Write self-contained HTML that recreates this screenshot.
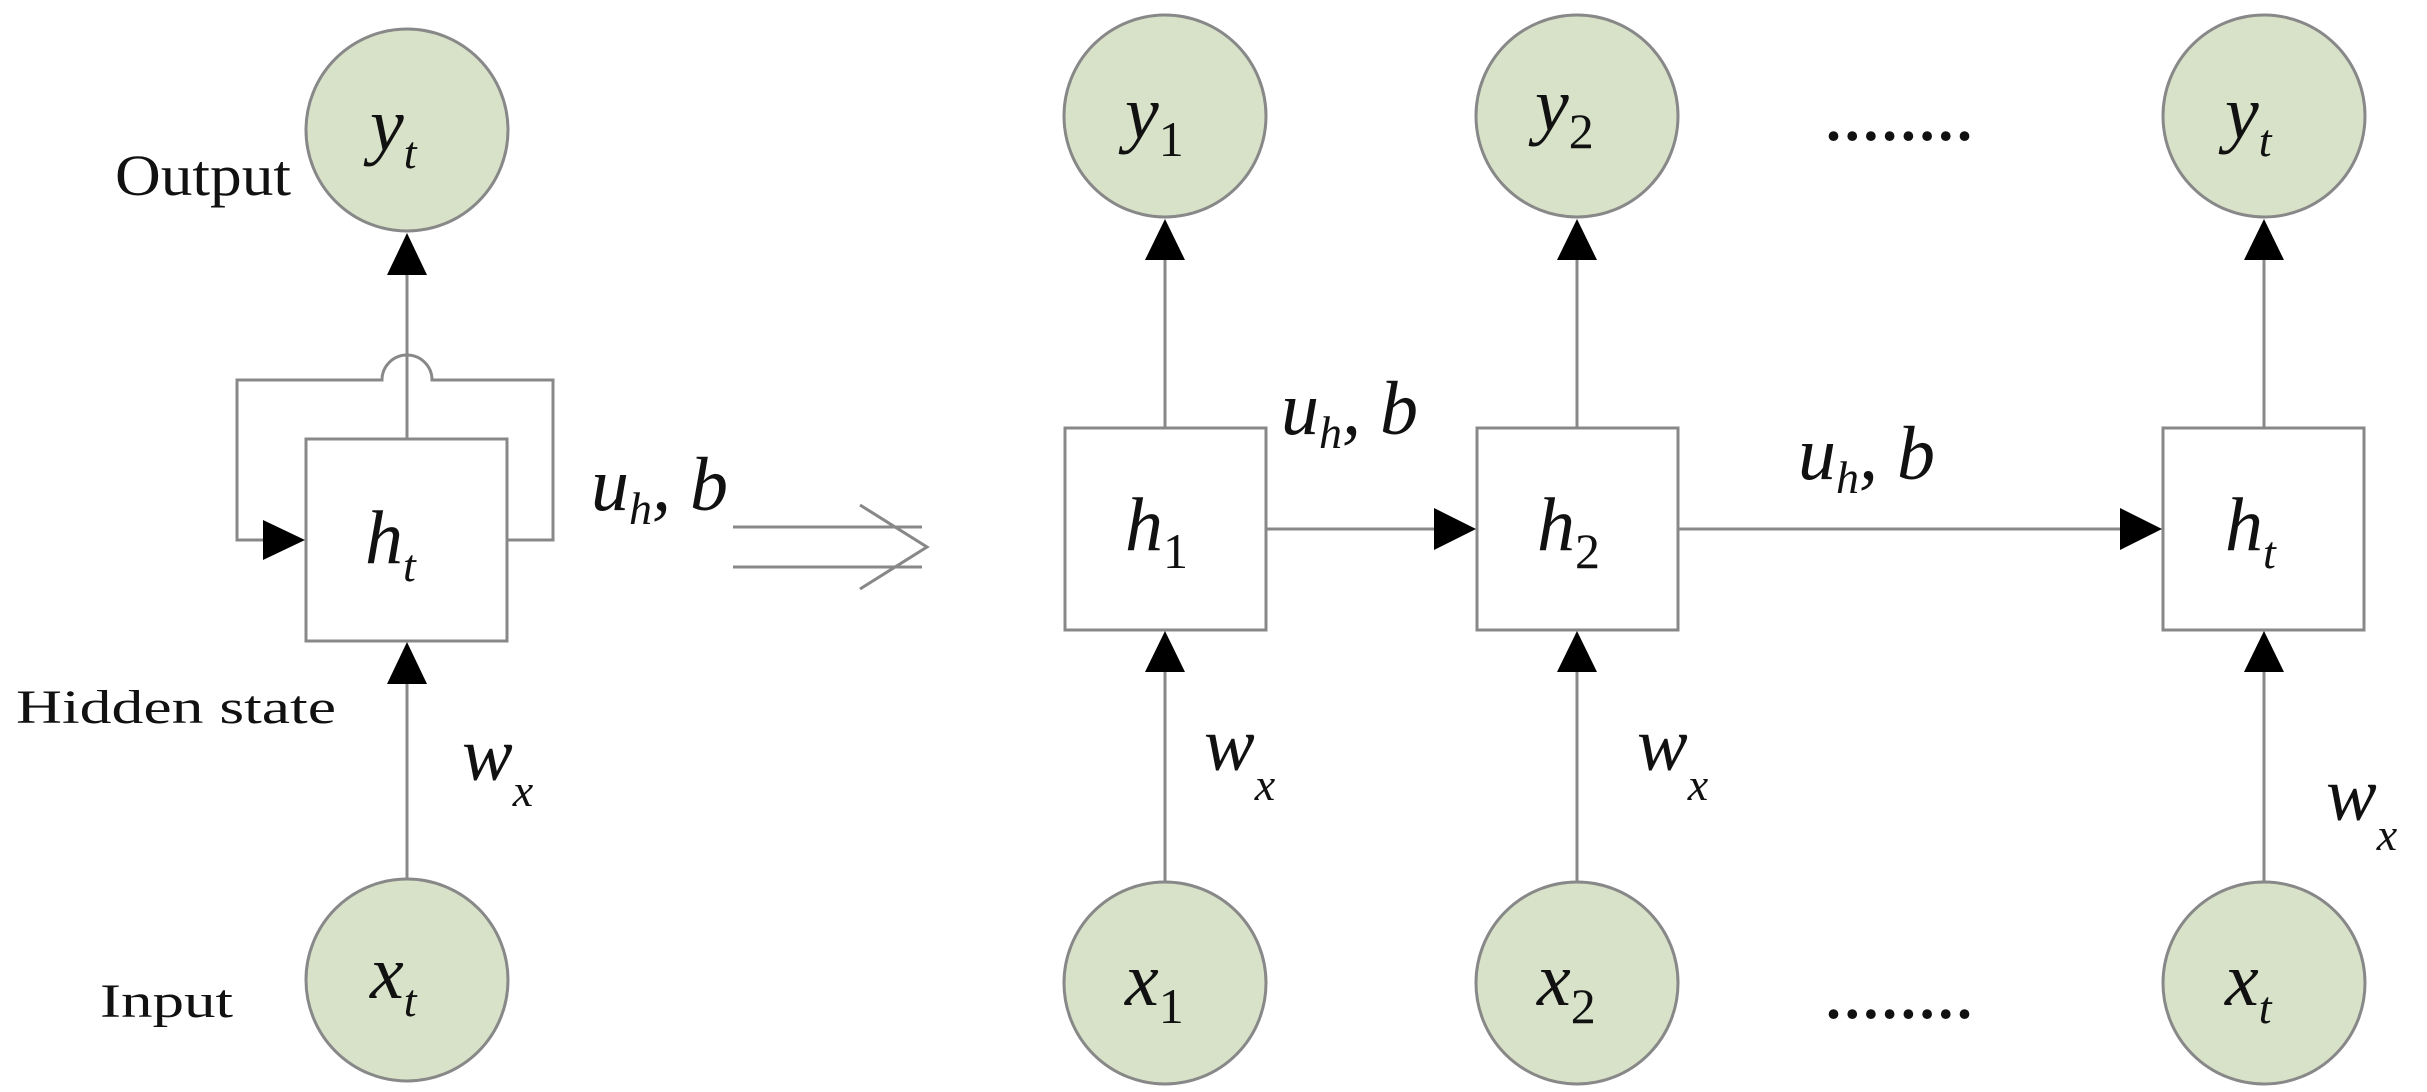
<!DOCTYPE html>
<html><head><meta charset="utf-8"><style>html,body{margin:0;padding:0;background:#fff}svg{display:block}</style></head>
<body>
<svg width="2427" height="1092" viewBox="0 0 2427 1092" xmlns="http://www.w3.org/2000/svg" font-family="Liberation Serif, serif">
<g fill="#d7e2c8" stroke="#888" stroke-width="3">
<circle cx="407" cy="130" r="101"/>
<circle cx="407" cy="980" r="101"/>
<circle cx="1165" cy="116" r="101"/>
<circle cx="1577" cy="116" r="101"/>
<circle cx="2264" cy="116" r="101"/>
<circle cx="1165" cy="983" r="101"/>
<circle cx="1577" cy="983" r="101"/>
<circle cx="2264" cy="983" r="101"/>
</g>
<g fill="#fff" stroke="#888" stroke-width="3">
<rect x="306" y="439" width="201" height="202"/>
<rect x="1065" y="428" width="201" height="202"/>
<rect x="1477" y="428" width="201" height="202"/>
<rect x="2163" y="428" width="201" height="202"/>
</g>
<g stroke="#888" stroke-width="3" fill="none">
<line x1="407" y1="439" x2="407" y2="270"/>
<line x1="407" y1="879" x2="407" y2="680"/>
<path d="M507 540 H553 V380 H432 A25 25 0 0 0 382 380 H237 V540 H270"/>
<line x1="1165" y1="428" x2="1165" y2="255"/>
<line x1="1577" y1="428" x2="1577" y2="255"/>
<line x1="2264" y1="428" x2="2264" y2="255"/>
<line x1="1165" y1="882" x2="1165" y2="668"/>
<line x1="1577" y1="882" x2="1577" y2="668"/>
<line x1="2264" y1="882" x2="2264" y2="668"/>
<line x1="1266" y1="529" x2="1440" y2="529"/>
<line x1="1678" y1="529" x2="2125" y2="529"/>
<line x1="733" y1="527" x2="922" y2="527"/>
<line x1="733" y1="567" x2="922" y2="567"/>
<polyline points="860,505 927,547 860,589"/>
</g>
<g fill="#000">
<polygon points="407,233 387,275 427,275"/>
<polygon points="407,642 387,684 427,684"/>
<polygon points="305,540 263,520 263,560"/>
<polygon points="1165,219 1145,260 1185,260"/>
<polygon points="1577,219 1557,260 1597,260"/>
<polygon points="2264,219 2244,260 2284,260"/>
<polygon points="1165,631 1145,672 1185,672"/>
<polygon points="1577,631 1557,672 1597,672"/>
<polygon points="2264,631 2244,672 2284,672"/>
<polygon points="1476,529 1434,508 1434,550"/>
<polygon points="2162,529 2120,508 2120,550"/>
</g>
<g font-size="48" fill="#111">
<text x="115" y="195" font-size="58" textLength="176" lengthAdjust="spacingAndGlyphs">Output</text>
<text x="16" y="723" textLength="320" lengthAdjust="spacingAndGlyphs">Hidden state</text>
<text x="100" y="1017" textLength="133" lengthAdjust="spacingAndGlyphs">Input</text>
</g>
<g font-style="italic" fill="#111" font-size="76">
<text x="370" y="150">y<tspan font-size="46" dy="18">t</tspan></text>
<text x="365" y="563">h<tspan font-size="46" dy="18">t</tspan></text>
<text x="370" y="998">x<tspan font-size="46" dy="18">t</tspan></text>
<text x="1125" y="138">y<tspan font-style="normal" font-size="50" dy="18">1</tspan></text>
<text x="1535" y="130">y<tspan font-style="normal" font-size="50" dy="18">2</tspan></text>
<text x="2225" y="138">y<tspan font-size="46" dy="18">t</tspan></text>
<text x="1125" y="550">h<tspan font-style="normal" font-size="50" dy="18">1</tspan></text>
<text x="1537" y="550">h<tspan font-style="normal" font-size="50" dy="18">2</tspan></text>
<text x="2225" y="550">h<tspan font-size="46" dy="18">t</tspan></text>
<text x="1125" y="1005">x<tspan font-style="normal" font-size="50" dy="18">1</tspan></text>
<text x="1537" y="1005">x<tspan font-style="normal" font-size="50" dy="18">2</tspan></text>
<text x="2225" y="1005">x<tspan font-size="46" dy="18">t</tspan></text>
<text x="591" y="510">u<tspan font-size="46" dy="14">h</tspan><tspan dy="-14">, b</tspan></text>
<text x="1281" y="434">u<tspan font-size="46" dy="14">h</tspan><tspan dy="-14">, b</tspan></text>
<text x="1798" y="479">u<tspan font-size="46" dy="14">h</tspan><tspan dy="-14">, b</tspan></text>
<text x="462" y="780">w<tspan font-size="46" dy="26">x</tspan></text>
<text x="1204" y="770">w<tspan font-size="46" dy="30">x</tspan></text>
<text x="1637" y="770">w<tspan font-size="46" dy="30">x</tspan></text>
<text x="2326" y="820">w<tspan font-size="46" dy="30">x</tspan></text>
</g>
<g font-size="60" font-weight="bold" fill="#111">
<text x="1826" y="140" textLength="146" lengthAdjust="spacing">........</text>
<text x="1826" y="1018" textLength="146" lengthAdjust="spacing">........</text>
</g>
</svg>
</body></html>
